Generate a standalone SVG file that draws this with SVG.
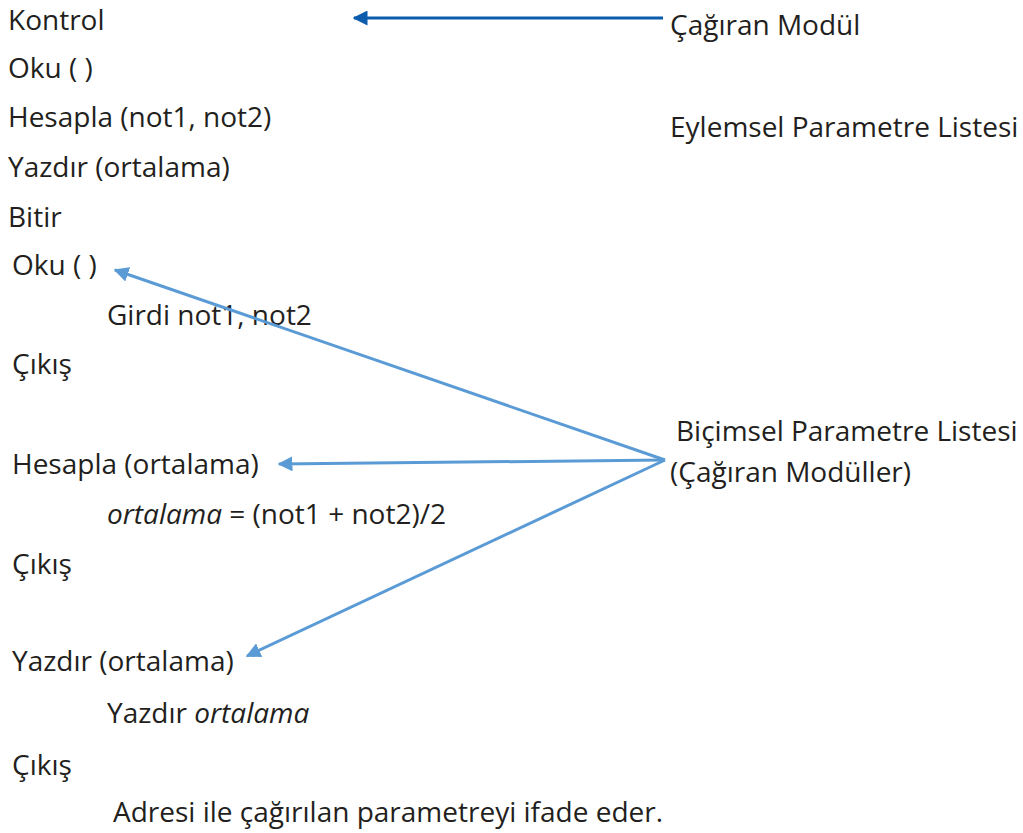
<svg xmlns="http://www.w3.org/2000/svg" width="1023" height="833" viewBox="0 0 1023 833">
<defs>
<style>
text{font-family:"Open Sans","Noto Sans","Liberation Sans",sans-serif;font-size:28px;fill:#231f20}
.i{font-style:italic}
.c1{stroke:#0b5cad;stroke-width:3;fill:none}
.c2{stroke:#5b9bd5;stroke-width:3;fill:none}
</style>
<marker id="a1" viewBox="0 0 10 10" refX="9" refY="5" markerWidth="5" markerHeight="5" markerUnits="strokeWidth" orient="auto"><path d="M0,0 L10,5 L0,10 z" fill="#0b5cad"/></marker>
<marker id="a2" viewBox="0 0 10 10" refX="9" refY="5" markerWidth="5" markerHeight="5" markerUnits="strokeWidth" orient="auto"><path d="M0,0 L10,5 L0,10 z" fill="#5b9bd5"/></marker>
</defs>
<rect width="1023" height="833" fill="#fff"/>
<g id="main">
<text x="8" y="30">Kontrol</text>
<text x="8" y="78">Oku ( )</text>
<text x="8" y="127">Hesapla (not1, not2)</text>
<text x="8" y="177">Yazdır (ortalama)</text>
<text x="8" y="227">Bitir</text>
</g>
<g id="oku">
<text x="12" y="275">Oku ( )</text>
<text x="107" y="325">Girdi not1, not2</text>
<text x="12" y="374">Çıkış</text>
</g>
<g id="hesapla">
<text x="12" y="474">Hesapla (ortalama)</text>
<text x="107" y="524"><tspan class="i">ortalama</tspan> = (not1 + not2)/2</text>
<text x="12" y="574">Çıkış</text>
</g>
<g id="yazdir">
<text x="12" y="671">Yazdır (ortalama)</text>
<text x="107" y="723">Yazdır <tspan class="i">ortalama</tspan></text>
<text x="12" y="775">Çıkış</text>
</g>
<g id="note"><text x="113" y="822">Adresi ile çağırılan parametreyi ifade eder.</text></g>
<g id="cagiran"><text x="670" y="35">Çağıran Modül</text></g>
<g id="eylemsel"><text x="670" y="137">Eylemsel Parametre Listesi</text></g>
<g id="bicimsel">
<text x="676" y="441">Biçimsel Parametre Listesi</text>
<text x="670" y="482">(Çağıran Modüller)</text>
</g>
<g id="connectors">
<line class="c1" x1="663" y1="18" x2="354" y2="18" marker-end="url(#a1)"/>
<line class="c2" x1="665" y1="460" x2="115" y2="270" marker-end="url(#a2)"/>
<line class="c2" x1="665" y1="460" x2="279" y2="464" marker-end="url(#a2)"/>
<line class="c2" x1="665" y1="460" x2="247" y2="656" marker-end="url(#a2)"/>
</g>
</svg>
